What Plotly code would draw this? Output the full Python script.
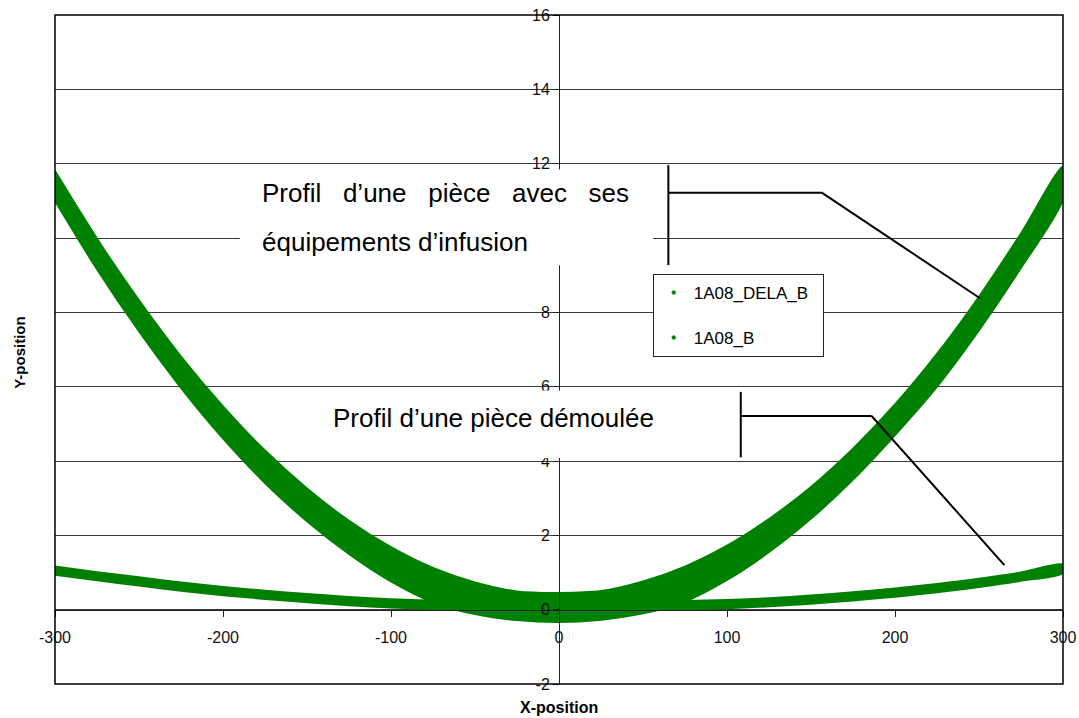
import plotly.graph_objects as go

# Sample positions along the part (mm)
x_pos = [-300, -275, -250, -225, -200, -175, -150, -125, -100, -75, -50, -25, 0,
         25, 50, 75, 100, 125, 150, 175, 200, 225, 250, 275, 300]

# 1A08_DELA_B : part with its infusion equipment (upper / lower edge of the point cloud)
dela_top = [11.80, 9.98, 8.32, 6.81, 5.47, 4.28, 3.26, 2.39, 1.68, 1.12, 0.73, 0.49, 0.45,
            0.50, 0.76, 1.16, 1.72, 2.44, 3.30, 4.33, 5.52, 6.88, 8.42, 10.12, 11.92]
dela_bot = [11.00, 9.16, 7.49, 5.97, 4.61, 3.41, 2.38, 1.50, 0.76, 0.20, -0.12, -0.28, -0.33,
            -0.27, -0.10, 0.22, 0.80, 1.55, 2.45, 3.50, 4.70, 6.00, 7.52, 9.20, 11.05]

# 1A08_B : demoulded part (upper / lower edge of the point cloud)
b_top = [1.16, 1.01, 0.87, 0.73, 0.61, 0.51, 0.42, 0.34, 0.28, 0.24, 0.21, 0.20, 0.19,
         0.20, 0.21, 0.23, 0.26, 0.31, 0.38, 0.47, 0.57, 0.69, 0.83, 1.00, 1.21]
b_bot = [0.94, 0.79, 0.65, 0.51, 0.39, 0.29, 0.20, 0.12, 0.06, 0.02, -0.01, -0.02, -0.03,
         -0.02, -0.01, 0.01, 0.04, 0.09, 0.16, 0.25, 0.35, 0.47, 0.61, 0.78, 0.99]

x_ticks = [-300, -200, -100, 0, 100, 200, 300]
x_tick_text = ["-300", "-200", "-100", "0", "100", "200", "300"]
y_ticks = [-2, 0, 2, 4, 6, 8, 10, 12, 14, 16]
y_tick_text = ["-2", "0", "2", "4", "6", "8", "10", "12", "14", "16"]

GREEN = "#008000"
FONT = "Arial, Liberation Sans, sans-serif"

fig = go.Figure()


def band(xs, top, bot, name):
    return go.Scatter(
        x=xs + xs[::-1], y=top + bot[::-1], mode="lines", fill="toself",
        fillcolor=GREEN, line=dict(color=GREEN, width=2, shape="spline", smoothing=0.8),
        name=name, showlegend=False, hoverinfo="skip")


fig.add_trace(band(x_pos, b_top, b_bot, "1A08_B"))
fig.add_trace(band(x_pos, dela_top, dela_bot, "1A08_DELA_B"))

# legend entries (small dots)
pad = "\u00a0" * 2
for i, nm in enumerate(["1A08_DELA_B", "1A08_B"]):
    fig.add_trace(go.Scatter(
        x=[None], y=[None], mode="markers", name=nm + pad, legendgroup=f"g{i}",
        marker=dict(color=GREEN, size=4, symbol="circle",
                    line=dict(color="#2e9a2e", width=0.5))))

fig.update_layout(
    width=1079, height=718,
    margin=dict(l=55, r=16, t=15, b=34, autoexpand=False),
    paper_bgcolor="white", plot_bgcolor="white",
    font=dict(family=FONT, color="black"),
    showlegend=True,
    legend=dict(
        x=0.593, y=0.613, xanchor="left", yanchor="top",
        bgcolor="white", bordercolor="#222", borderwidth=1,
        font=dict(size=17, family=FONT, color="black"),
        traceorder="grouped", tracegroupgap=20, itemsizing="trace",
    ),
    xaxis=dict(
        range=[-300, 300], tickvals=x_ticks, ticktext=x_tick_text,
        showgrid=False, zeroline=False,
        showline=True, linecolor="#222", linewidth=1,
        anchor="free", position=2 / 18, automargin=False,
        ticks="outside", ticklen=6, tickcolor="#222",
        tickfont=dict(size=16, family=FONT, color="#111"),
        ticklabelstandoff=7,
    ),
    yaxis=dict(
        range=[-2, 16], tickvals=y_ticks, ticktext=y_tick_text,
        showgrid=True, gridcolor="#3a3a3a",
        gridwidth=1, zeroline=False,
        showline=True, linecolor="#222", linewidth=1,
        anchor="free", position=0.5, automargin=False,
        ticks="outside", ticklen=6, tickcolor="#222",
        tickfont=dict(size=16, family=FONT, color="#111"),
    ),
)

# white panels behind the two captions
fig.add_shape(type="rect", xref="x", yref="y", x0=-190, x1=56, y0=9.27, y1=11.84,
              fillcolor="white", line=dict(width=0), layer="above")
fig.add_shape(type="rect", xref="x", yref="y", x0=-142, x1=84, y0=4.08, y1=5.90,
              fillcolor="white", line=dict(width=0), layer="above")

# callout leaders
leader = dict(color="black", width=2)
for x0, y0, x1, y1 in [
    (65.1, 11.96, 65.1, 9.27), (65.1, 11.22, 156.4, 11.22), (156.4, 11.22, 250.6, 8.38),
    (108.2, 5.86, 108.2, 4.10), (108.2, 5.21, 186.1, 5.21), (186.1, 5.21, 265.1, 1.20),
]:
    fig.add_shape(type="line", xref="x", yref="y", x0=x0, y0=y0, x1=x1, y1=y1,
                  line=leader, layer="above")

# plot frame
fig.add_shape(type="rect", xref="paper", yref="paper", x0=0, x1=1, y0=0, y1=1,
              line=dict(color="black", width=1.5), layer="above")

nb = "\u00a0" * 3
cap_font = dict(size=26, family=FONT, color="black")
fig.add_annotation(x=-178, y=11.22, xref="x", yref="y", xanchor="left", yanchor="middle",
                   text=f"Profil{nb}d’une{nb}pièce{nb}avec{nb}ses", showarrow=False, font=cap_font)
fig.add_annotation(x=-178, y=9.90, xref="x", yref="y", xanchor="left", yanchor="middle",
                   text="équipements d’infusion", showarrow=False, font=cap_font)
fig.add_annotation(x=-135.7, y=5.15, xref="x", yref="y", xanchor="left", yanchor="middle",
                   text="Profil d’une pièce démoulée", showarrow=False, font=cap_font)

# axis titles
fig.add_annotation(x=0.5, y=0, xref="paper", yref="paper", yshift=-23, yanchor="middle",
                   text="<b>X-position</b>", showarrow=False,
                   font=dict(size=16, family=FONT, color="black"))
fig.add_annotation(x=0, y=0.495, xref="paper", yref="paper", xshift=-35, xanchor="center",
                   text="<b>Y-position</b>", textangle=-90, showarrow=False,
                   font=dict(size=15, family=FONT, color="black"))

fig.write_html("out.html")
